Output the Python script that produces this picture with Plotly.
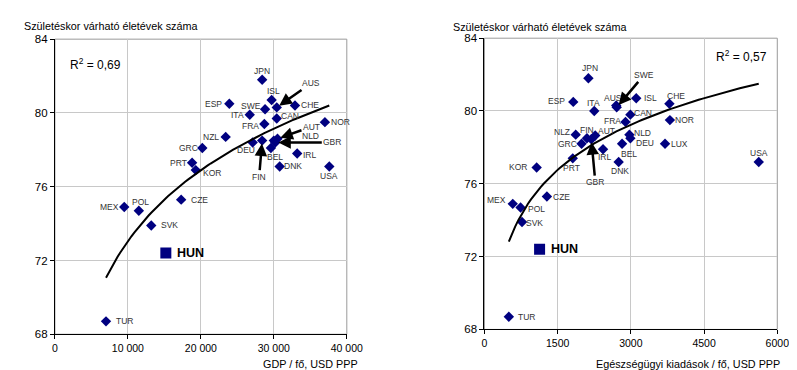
import numpy as np
import plotly.graph_objects as go

# ---------- data ----------
countries_gdp = ["JPN", "ISL", "ESP", "SWE", "AUS", "CHE", "ITA", "CAN", "FRA", "NOR",
                 "NZL", "AUT", "NLD", "GBR", "DEU", "FIN", "BEL", "IRL", "DNK", "USA",
                 "GRC", "PRT", "KOR", "CZE", "MEX", "POL", "SVK", "TUR"]
gdp = [28400, 29700, 23900, 28800, 30400, 32900, 26700, 30400, 28700, 37000,
       23400, 30500, 30000, 30200, 27100, 28400, 29600, 33200, 30800, 37600,
       20200, 18800, 19300, 17300, 9500, 11500, 13200, 7000]
life_gdp = [81.8, 80.7, 80.5, 80.2, 80.3, 80.4, 79.9, 79.7, 79.4, 79.5,
            78.7, 78.6, 78.5, 78.4, 78.4, 78.5, 78.1, 77.8, 77.1, 77.1,
            78.1, 77.3, 76.9, 75.3, 74.9, 74.7, 73.9, 68.7]

countries_hlt = ["JPN", "ESP", "ITA", "AUS", "SWE", "ISL", "CHE", "CAN", "FRA", "NOR",
                 "NLZ", "FIN", "AUT", "GBR", "GRC", "IRL", "NLD", "DEU", "BEL", "DNK",
                 "PRT", "KOR", "LUX", "USA", "MEX", "POL", "SVK", "CZE", "TUR"]
health = [2130, 1820, 2250, 2700, 2710, 3110, 3790, 2990, 2890, 3800,
          1870, 2100, 2270, 2190, 1990, 2430, 2970, 2990, 2820, 2750,
          1810, 1070, 3700, 5620, 580, 740, 770, 1280, 500]
life_hlt = [81.8, 80.5, 80.0, 80.3, 80.2, 80.7, 80.4, 79.8, 79.4, 79.5,
            78.7, 78.5, 78.65, 78.45, 78.2, 77.9, 78.7, 78.5, 78.2, 77.2,
            77.4, 76.9, 78.2, 77.2, 74.9, 74.7, 73.9, 75.3, 68.7]

hun_gdp, hun_life_gdp = 15200, 72.4
hun_health, hun_life_hlt = 1130, 72.4

y_ticks = [68, 72, 76, 80, 84]
x_ticks_gdp = [0, 10000, 20000, 30000, 40000]
x_ticklabels_gdp = ["0", "10 000", "20 000", "30 000", "40 000"]
x_ticks_hlt = [0, 1500, 3000, 4500, 6000]

r2_gdp = "R<sup>2</sup> = 0,69"
r2_hlt = "R<sup>2</sup> = 0,57"
y_title = "Születéskor várható életévek száma"
x_title_gdp = "GDP / fő, USD PPP"
x_title_hlt = "Egészségügyi kiadások / fő, USD PPP"

# ---------- label offsets in pixels (style): (dx right, dy down) ----------
off_gdp = {"JPN": (0, -9), "ISL": (2, -9), "ESP": (-16, 0), "SWE": (-14, -3), "CHE": (15, -1),
           "ITA": (-12, 0), "CAN": (13, -2), "FRA": (-14, 2), "NOR": (16, 0), "NZL": (-15, 0),
           "DEU": (-7, 8), "BEL": (4, 9), "IRL": (13, 1), "DNK": (13, 0), "USA": (0, 10),
           "GRC": (-14, 0), "PRT": (-14, 0), "KOR": (16, 3), "CZE": (18, 0), "MEX": (-15, 0),
           "POL": (2, -9), "SVK": (18, 0), "TUR": (18, 0)}
off_hlt = {"JPN": (2, -10), "ESP": (-17, -1), "ITA": (-1, -8), "AUS": (-3, -8), "ISL": (14, 0),
           "CHE": (7, -8), "CAN": (13, -2), "FRA": (-13, -1), "NOR": (15, 0), "NLZ": (-14, -3),
           "FIN": (0, -8), "AUT": (11, -5), "GRC": (-14, 0), "IRL": (2, 8), "NLD": (13, -2),
           "DEU": (15, 5), "BEL": (7, 10), "DNK": (1, 9), "PRT": (-1, 10), "KOR": (-19, 0),
           "LUX": (14, 0), "USA": (0, -9), "MEX": (-16, -4), "POL": (16, 2), "SVK": (12, 1),
           "CZE": (15, 0), "TUR": (18, 0)}
# arrow labels: (label dx, label dy) from the point
arrows_gdp = {"AUS": (34, -24), "AUT": (34, -12), "GBR": (57, 0), "FIN": (-3, 36)}
nolink_gdp = {"NLD": (37, -5)}
arrows_hlt = {"SWE": (27, -32), "GBR": (4, 43)}

NAVY = "#000080"
LBL = "#333333"
FONT = "Liberation Sans, Arial, sans-serif"

fig = go.Figure()


def add_panel(xs, ys, hx, hy, xa, ya):
    fig.add_trace(go.Scatter(x=xs, y=ys, mode="markers",
                             marker=dict(symbol="diamond", size=8, color=NAVY),
                             xaxis=xa, yaxis=ya, showlegend=False))
    fig.add_trace(go.Scatter(x=[hx], y=[hy], mode="markers",
                             marker=dict(symbol="square", size=11, color=NAVY),
                             xaxis=xa, yaxis=ya, showlegend=False))
    # logarithmic trend line (Excel-style), least-squares fit on all points
    allx = np.array(list(xs) + [hx], dtype=float)
    ally = np.array(list(ys) + [hy], dtype=float)
    b, a = np.polyfit(np.log(allx), ally, 1)
    tx = np.linspace(allx.min(), allx.max(), 80)
    fig.add_trace(go.Scatter(x=tx, y=a + b * np.log(tx), mode="lines",
                             line=dict(color="black", width=2),
                             xaxis=xa, yaxis=ya, showlegend=False, hoverinfo="skip"))


add_panel(gdp, life_gdp, hun_gdp, hun_life_gdp, "x", "y")
add_panel(health, life_hlt, hun_health, hun_life_hlt, "x2", "y2")

axis_common = dict(showline=True, linecolor="black", linewidth=1, ticks="outside",
                   ticklen=4, tickcolor="black", showgrid=True, gridcolor="#c8c8c8",
                   gridwidth=1, zeroline=False)
yfont = dict(size=11.5, family=FONT, color="black")
xfont = dict(size=10.5, family=FONT, color="black")

fig.update_layout(
    width=797, height=370, margin=dict(l=0, r=0, t=0, b=0),
    paper_bgcolor="white", plot_bgcolor="white",
    font=dict(family=FONT, color="black"),
    xaxis=dict(domain=[45 / 797, 344 / 797], range=[0, 40000], tickvals=x_ticks_gdp,
               ticktext=x_ticklabels_gdp, anchor="y", tickfont=xfont, **axis_common),
    yaxis=dict(domain=[1 - 331 / 370, 1 - 26 / 370], range=[68, 84], tickvals=y_ticks,
               anchor="x", tickfont=yfont, **axis_common),
    xaxis2=dict(domain=[485 / 797, 785 / 797], range=[0, 6000], tickvals=x_ticks_hlt,
                anchor="y2", tickfont=xfont, **axis_common),
    yaxis2=dict(domain=[1 - 326 / 370, 1 - 25 / 370], range=[68, 84], tickvals=y_ticks,
                anchor="x2", tickfont=yfont, **axis_common),
)

# gray plot-area borders
for xr, yr in (("x domain", "y domain"), ("x2 domain", "y2 domain")):
    fig.add_shape(type="rect", xref=xr, yref=yr, x0=0, x1=1, y0=0, y1=1,
                  line=dict(color="#9a9a9a", width=1), layer="below")

ann_font = dict(size=8.5, color=LBL, family=FONT)
arrow_kw = dict(showarrow=True, arrowhead=2, arrowsize=1, arrowwidth=2.5,
                arrowcolor="black", standoff=3, font=ann_font)


def label_panel(names, xs, ys, offs, arrows, nolink, xa, ya, hx, hy):
    for n, x, y in zip(names, xs, ys):
        if n in offs:
            dx, dy = offs[n]
            fig.add_annotation(x=x, y=y, xref=xa, yref=ya, text=n, showarrow=False,
                               xshift=dx, yshift=-dy, font=ann_font)
        elif n in arrows:
            dx, dy = arrows[n]
            fig.add_annotation(x=x, y=y, xref=xa, yref=ya, text=n, ax=dx, ay=dy, **arrow_kw)
        elif n in nolink:
            dx, dy = nolink[n]
            fig.add_annotation(x=x, y=y, xref=xa, yref=ya, text=n, showarrow=False,
                               xshift=dx, yshift=-dy, font=ann_font)
    fig.add_annotation(x=hx, y=hy, xref=xa, yref=ya, text="<b>HUN</b>", showarrow=False,
                       xshift=9, xanchor="left", font=dict(size=12.5, color="black", family=FONT))


label_panel(countries_gdp, gdp, life_gdp, off_gdp, arrows_gdp, nolink_gdp, "x", "y",
            hun_gdp, hun_life_gdp)
label_panel(countries_hlt, health, life_hlt, off_hlt, arrows_hlt, {}, "x2", "y2",
            hun_health, hun_life_hlt)

# R² labels
fig.add_annotation(x=58 / 797, y=1 - 52 / 370, xref="paper", yref="paper", text=r2_gdp,
                   showarrow=False, xanchor="left", yanchor="middle",
                   font=dict(size=12, family=FONT, color="black"))
fig.add_annotation(x=776 / 797, y=1 - 43 / 370, xref="paper", yref="paper", text=r2_hlt,
                   showarrow=False, xanchor="right", yanchor="middle",
                   font=dict(size=12, family=FONT, color="black"))

# axis titles
title_font = dict(size=10.8, family=FONT, color="black")
fig.add_annotation(x=11 / 797, y=1 - 12 / 370, xref="paper", yref="paper", text=y_title,
                   showarrow=False, xanchor="left", yanchor="middle", font=title_font)
fig.add_annotation(x=451 / 797, y=1 - 13 / 370, xref="paper", yref="paper", text=y_title,
                   showarrow=False, xanchor="left", yanchor="middle", font=title_font)
fig.add_annotation(x=358 / 797, y=1 - 362 / 370, xref="paper", yref="paper", text=x_title_gdp,
                   showarrow=False, xanchor="right", yanchor="middle", font=title_font)
fig.add_annotation(x=790 / 797, y=1 - 362 / 370, xref="paper", yref="paper", text=x_title_hlt,
                   showarrow=False, xanchor="right", yanchor="middle", font=title_font)

fig.write_html("out.html")
